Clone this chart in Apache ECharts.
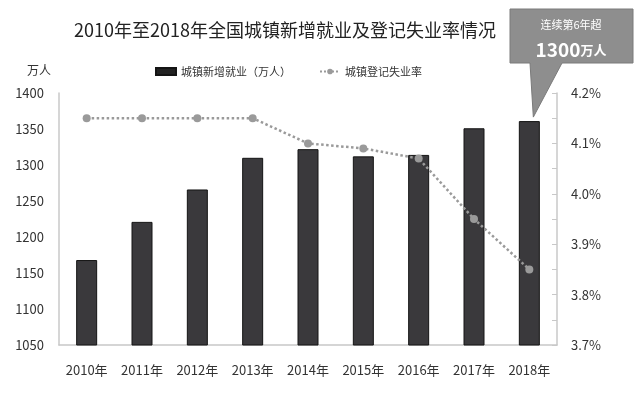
<!DOCTYPE html>
<html>
<head>
<meta charset="utf-8">
<script src="https://cdn.jsdelivr.net/npm/echarts@6/dist/echarts.min.js"></script>
<style>
html,body{margin:0;padding:0;background:#fff;}
#c{width:640px;height:398px;}
</style>
</head>
<body>
<div id="c"></div>
<script>
const years = ['2010年','2011年','2012年','2013年','2014年','2015年','2016年','2017年','2018年'];
const newJobs = [1168, 1221, 1266, 1310, 1322, 1312, 1314, 1351, 1361];
const unemploymentRate = [4.15, 4.15, 4.15, 4.15, 4.10, 4.09, 4.07, 3.95, 3.85];
const titleText = '2010年至2018年全国城镇新增就业及登记失业率情况';
const barName = '城镇新增就业（万人）';
const lineName = '城镇登记失业率';
const calloutLine1 = '连续第6年超';
const calloutLine2 = '1300';
const calloutUnit = '万人';

const FONT = '"Noto Sans CJK SC", "Noto Sans", sans-serif';
const chart = echarts.init(document.getElementById('c'), null, {renderer: 'canvas'});

const option = {
  backgroundColor: '#fff',
  animation: false,
  textStyle: {fontFamily: FONT},
  title: {
    text: titleText,
    left: 69, top: 16,
    textStyle: {fontSize: 18, fontWeight: 'normal', color: '#222', fontFamily: FONT}
  },
  legend: {
    left: 150, top: 61,
    itemGap: 28,
    textStyle: {fontSize: 11, color: '#333', fontFamily: FONT},
    data: [
      {name: barName, icon: 'rect', itemStyle: {color: '#222'}},
      {name: lineName}
    ],
    itemWidth: 20, itemHeight: 7
  },
  grid: {left: 59, right: 83, top: 93, bottom: 53, containLabel: false},
  xAxis: {
    type: 'category',
    data: years,
    axisLine: {lineStyle: {color: '#c8c8c8', width: 1.5}},
    axisTick: {show: false},
    axisLabel: {fontSize: 13, color: '#333', margin: 19, fontFamily: FONT}
  },
  yAxis: [
    {
      type: 'value', min: 1050, max: 1400, interval: 50,
      name: '万人', nameLocation: 'end', nameGap: 17,
      nameTextStyle: {fontSize: 12, color: '#333', align: 'right', padding: [0, 8, 0, 0]},
      axisLine: {show: true, lineStyle: {color: '#c8c8c8', width: 1.5}},
      axisTick: {show: false},
      splitLine: {show: false},
      axisLabel: {fontSize: 13, color: '#333', margin: 15, fontFamily: FONT,
        formatter: v => String(v)}
    },
    {
      type: 'value', min: 3.7, max: 4.2, interval: 0.1,
      axisLine: {show: true, lineStyle: {color: '#c8c8c8', width: 1.5}},
      axisTick: {show: true, inside: true, length: 5, lineStyle: {color: '#c8c8c8'}},
      minorTick: {show: true, splitNumber: 2, length: 5, lineStyle: {color: '#c8c8c8'}},
      splitLine: {show: false},
      axisLabel: {fontSize: 13, color: '#333', margin: 14, fontFamily: FONT,
        formatter: v => v.toFixed(1) + '%'}
    }
  ],
  series: [
    {
      name: barName, type: 'bar', yAxisIndex: 0,
      data: newJobs, barWidth: 21,
      itemStyle: {color: '#3a393c', borderColor: '#141414', borderWidth: 1}
    },
    {
      name: lineName, type: 'line', yAxisIndex: 1,
      data: unemploymentRate,
      symbol: 'circle', symbolSize: 8,
      itemStyle: {color: '#9a9a9a'},
      lineStyle: {color: '#9a9a9a', type: 'dotted', width: 2.5}
    }
  ]
};
chart.setOption(option);

// callout box pointing to the last bar
const tip = chart.convertToPixel({xAxisIndex: 0, yAxisIndex: 0}, [years.length - 1, newJobs[newJobs.length - 1]]);
const tipX = tip[0] + 4, tipY = tip[1] - 4;
chart.setOption({
  graphic: [
    {
      type: 'polygon',
      shape: {points: [[510, 9], [633, 9], [633, 63], [562, 63], [tipX, tipY], [530, 63], [510, 63]]},
      style: {fill: '#8e8e8e', stroke: '#7a7a7a', lineWidth: 1}
    },
    {
      type: 'text', x: 571, y: 25,
      style: {text: calloutLine1, fill: '#fff', font: '11px ' + FONT, align: 'center', verticalAlign: 'middle'}
    },
    {
      type: 'text', x: 571, y: 50,
      style: {
        text: '{a|' + calloutLine2 + '}{b|' + calloutUnit + '}',
        align: 'center', verticalAlign: 'middle',
        rich: {
          a: {fill: '#fff', fontSize: 19, fontWeight: 'bold', fontFamily: FONT},
          b: {fill: '#fff', fontSize: 13, fontWeight: 'bold', fontFamily: FONT}
        }
      }
    }
  ]
});
</script>
</body>
</html>
